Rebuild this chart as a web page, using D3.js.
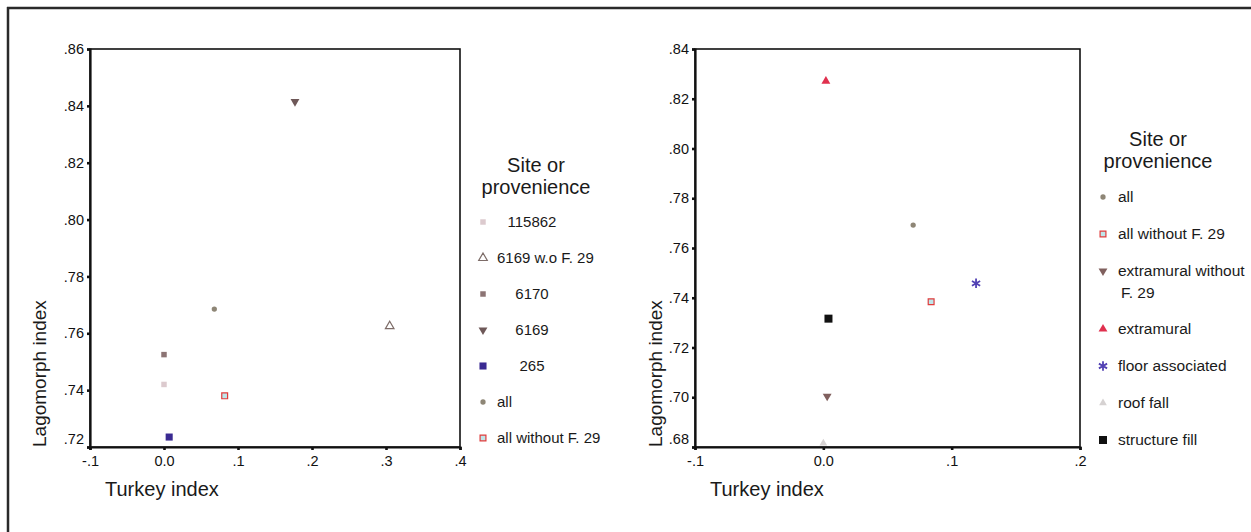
<!DOCTYPE html>
<html>
<head>
<meta charset="utf-8">
<script src="https://cdn.jsdelivr.net/npm/d3@7"></script>
<style>
  html, body { margin: 0; padding: 0; background: #fff; }
  svg { display: block; font-family: "Liberation Sans", Arial, sans-serif; }
</style>
</head>
<body>
<svg id="chart" width="1251" height="532"></svg>
<script>
// left panel: sites
const leftCategories = ['115862', '6169 w.o F. 29', '6170', '6169', '265', 'all', 'all without F. 29'];
const leftTurkey     = [0.000, 0.305, 0.000, 0.177, 0.007, 0.068, 0.082];
const leftLagomorph  = [0.742, 0.7625, 0.7525, 0.8415, 0.7235, 0.7685, 0.738];
const leftXTicks = [-0.1, 0, 0.1, 0.2, 0.3, 0.4];
const leftYTicks = [0.72, 0.74, 0.76, 0.78, 0.80, 0.82, 0.84, 0.86];

// right panel: provenience
const rightCategories = ['all', 'all without F. 29', 'extramural without F. 29', 'extramural', 'floor associated', 'roof fall', 'structure fill'];
const rightTurkey     = [0.070, 0.084, 0.003, 0.002, 0.119, 0.000, 0.004];
const rightLagomorph  = [0.7692, 0.7384, 0.7004, 0.8271, 0.7458, 0.6815, 0.7316];
const rightXTicks = [-0.1, 0, 0.1, 0.2];
const rightYTicks = [0.68, 0.70, 0.72, 0.74, 0.76, 0.78, 0.80, 0.82, 0.84];

// marker styles by category name
const asterisk = {
  draw(ctx, size) {
    const r = Math.sqrt(size) / 2;
    for (let i = 0; i < 3; i++) {
      const a = Math.PI / 2 + i * Math.PI / 3;
      ctx.moveTo(r * Math.cos(a), r * Math.sin(a));
      ctx.lineTo(-r * Math.cos(a), -r * Math.sin(a));
    }
  }
};
const styles = {
  '115862':            { type: d3.symbolSquare,   size: 30, fill: '#dccace', stroke: 'none' },
  '6169 w.o F. 29':    { type: d3.symbolTriangle, size: 32, fill: '#fff',    stroke: '#7d6c68' },
  '6170':              { type: d3.symbolSquare,   size: 30, fill: '#8c7474', stroke: 'none' },
  '6169':              { type: d3.symbolTriangle, size: 34, fill: '#6e5858', stroke: 'none', flip: true },
  '265':               { type: d3.symbolSquare,   size: 50, fill: '#3a2a92', stroke: 'none' },
  'all':               { type: d3.symbolCircle,   size: 22, fill: '#8e8676', stroke: 'none' },
  'all without F. 29': { type: d3.symbolSquare,   size: 34, fill: '#bfe6ea', stroke: '#e03c3c' },
  'extramural without F. 29': { type: d3.symbolTriangle, size: 34, fill: '#80605e', stroke: 'none', flip: true },
  'extramural':        { type: d3.symbolTriangle, size: 34, fill: '#e0304e', stroke: 'none' },
  'floor associated':  { type: asterisk,          size: 90, fill: 'none',    stroke: '#5242b4', sw: 1.8 },
  'roof fall':         { type: d3.symbolTriangle, size: 26, fill: '#d6d2d2', stroke: 'none' },
  'structure fill':    { type: d3.symbolSquare,   size: 64, fill: '#111',    stroke: 'none' }
};

const svg = d3.select('#chart');

// outer frame (top and left edges only, as cropped)
svg.append('line').attr('x1', 7).attr('x2', 1251).attr('y1', 8).attr('y2', 8)
  .attr('stroke', '#2a2a2a').attr('stroke-width', 2.5);
svg.append('line').attr('x1', 8).attr('x2', 8).attr('y1', 7).attr('y2', 532)
  .attr('stroke', '#2a2a2a').attr('stroke-width', 2.5);

const fmtX = d => d === 0 ? '0.0' : d3.format('.1f')(d).replace('\u2212', '-').replace('0.', '.');
const fmtY = d => d3.format('.2f')(d).replace('0.', '.');

function marker(sel, name) {
  const s = styles[name];
  sel.append('path')
    .attr('d', d3.symbol().type(s.type).size(s.size)())
    .attr('transform', s.flip ? 'rotate(180)' : null)
    .attr('fill', s.fill)
    .attr('stroke', s.stroke)
    .attr('stroke-width', s.sw || 1.2);
}

function drawPanel(opt) {
  const x = d3.scaleLinear().domain(opt.xDomain).range([opt.x0, opt.x1]);
  const y = d3.scaleLinear().domain(opt.yDomain).range([opt.y1, opt.y0]);
  const g = svg.append('g');

  // frame top / right
  g.append('rect').attr('x', opt.x0).attr('y', opt.y0)
    .attr('width', opt.x1 - opt.x0).attr('height', opt.y1 - opt.y0)
    .attr('fill', 'none').attr('stroke', '#111').attr('stroke-width', 1.6);

  const xAxis = g.append('g').attr('transform', `translate(0,${opt.y1})`)
    .call(d3.axisBottom(x).tickValues(opt.xTicks).tickFormat(fmtX).tickSize(3).tickPadding(6));
  const yAxis = g.append('g').attr('transform', `translate(${opt.x0},0)`)
    .call(d3.axisLeft(y).tickValues(opt.yTicks).tickFormat(fmtY).tickSize(3).tickPadding(3));
  [xAxis, yAxis].forEach(a => {
    a.select('.domain').attr('stroke', '#111').attr('stroke-width', 2.2);
    a.selectAll('.tick line').attr('stroke', '#111').attr('stroke-width', 2.6);
    a.selectAll('.tick text').attr('fill', '#111').style('font-size', '14.5px');
  });
  // lowest y label sits a little above the corner
  yAxis.selectAll('.tick text').filter(d => d === opt.yDomain[0]).attr('dy', '-0.25em');

  g.append('text').attr('x', opt.xTitleX).attr('y', 496)
    .style('font-size', '20px').attr('fill', '#1a1a1a').text('Turkey index');
  g.append('text').attr('transform', `translate(${opt.yTitleX},${opt.y1}) rotate(-90)`)
    .style('font-size', '19px').attr('fill', '#1a1a1a').text('Lagomorph index');

  // points
  opt.cats.forEach((c, i) => {
    g.append('g').attr('transform', `translate(${x(opt.tx[i])},${y(opt.ly[i])})`).call(marker, c);
  });

  // legend
  const lg = g.append('g');
  lg.selectAll('text.title').data(['Site or', 'provenience']).join('text')
    .attr('x', opt.legTitleX).attr('y', (d, i) => opt.legTitleY + i * 22)
    .attr('text-anchor', 'middle').style('font-size', '20px').attr('fill', '#1a1a1a').text(d => d);
  let yy = opt.legY;
  opt.cats.forEach(c => {
    const item = lg.append('g').attr('transform', `translate(${opt.legMarkX},${yy})`);
    item.call(marker, c);
    const numeric = /^\d+$/.test(c);
    const lines = c === 'extramural without F. 29' ? ['extramural without', 'F. 29'] : [c];
    const t = item.append('text').style('font-size', opt.legFont).attr('fill', '#1a1a1a')
      .attr('text-anchor', numeric && opt.centerNumeric ? 'middle' : 'start');
    lines.forEach((l, k) => {
      t.append('tspan')
        .attr('x', numeric && opt.centerNumeric ? opt.numCenter - opt.legMarkX : opt.legTextDx + (k ? 3 : 0))
        .attr('y', k * 22 + 5).text(l);
    });
    yy += opt.legStep + (lines.length - 1) * 21;
  });
}

drawPanel({
  x0: 90, x1: 460, y0: 49, y1: 447,
  xDomain: [-0.1, 0.4], yDomain: [0.72, 0.86],
  xTicks: leftXTicks, yTicks: leftYTicks,
  cats: leftCategories, tx: leftTurkey, ly: leftLagomorph,
  xTitleX: 105, yTitleX: 46,
  legTitleX: 536, legTitleY: 172, legY: 222, legStep: 36,
  legMarkX: 483, legTextDx: 14, legFont: '15px', centerNumeric: true, numCenter: 532
});

drawPanel({
  x0: 695, x1: 1080, y0: 49, y1: 447,
  xDomain: [-0.1, 0.2], yDomain: [0.68, 0.84],
  xTicks: rightXTicks, yTicks: rightYTicks,
  cats: rightCategories, tx: rightTurkey, ly: rightLagomorph,
  xTitleX: 710, yTitleX: 662,
  legTitleX: 1158, legTitleY: 146, legY: 197, legStep: 37,
  legMarkX: 1103, legTextDx: 15, legFont: '15.5px', centerNumeric: false, numCenter: 0
});
</script>
</body>
</html>
